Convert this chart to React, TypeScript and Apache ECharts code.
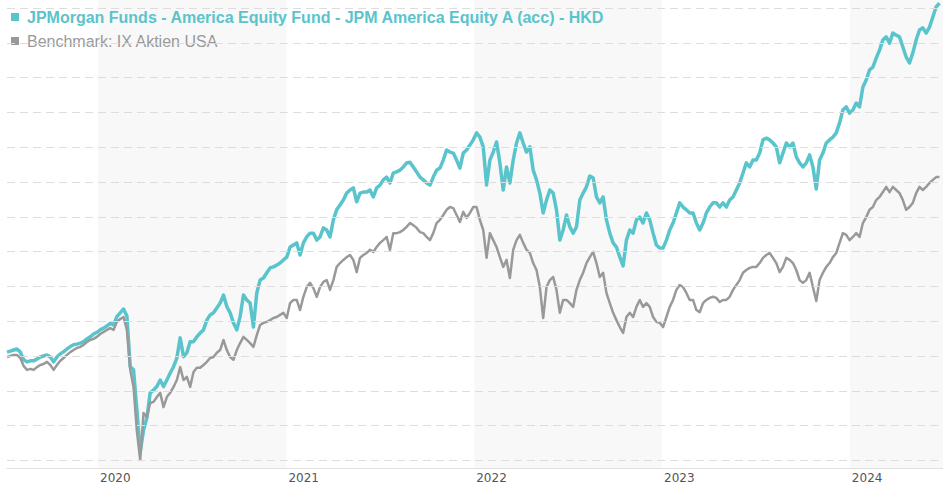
import React, { useEffect, useRef } from "react";
import * as echarts from "echarts";

const FUND_NAME = "JPMorgan Funds - America Equity Fund - JPM America Equity A (acc) - HKD";
const BENCH_NAME = "Benchmark: IX Aktien USA";

const START_DATE = "2019-07-08";
const STEP_DAYS = 6.472;
const AXIS_MIN = "2019-07-08";
const AXIS_MAX = "2024-06-30";
const Y_MIN = 67.8;
const Y_MAX = 202.3;
const GRID_VALUES = [70, 80, 90, 100, 110, 120, 130, 140, 150, 160, 170, 180, 190, 200];

const fund = [
  101.1, 101.4, 101.7, 102.0, 101.1, 98.9, 98.3, 98.6, 98.6, 99.1,
  99.7, 100.0, 100.3, 99.7, 98.3, 99.7, 100.6, 101.2, 102.0, 102.7,
  103.2, 103.4, 103.7, 104.1, 104.9, 105.5, 106.3, 106.8, 107.5, 108.0,
  108.6, 109.4, 108.9, 111.3, 112.4, 113.5, 111.5, 96.9, 96.0, 84.5,
  72.4, 78.7, 82.2, 89.4,
  90.2, 91.2,
  93.1, 91.2, 93.1, 95.1, 96.9, 99.4, 105.2, 99.8, 100.9,
  104.1, 104.1, 105.5, 106.6, 107.5, 110.3, 111.8, 112.4, 113.8,
  115.2, 117.5, 114.2, 112.4, 109.5, 107.5, 111.3, 117.5, 116.1,
  115.2, 108.3, 118.1, 121.8, 122.4, 123.9, 125.3, 125.6, 126.1,
  126.7, 127.6, 128.4, 131.3, 131.9, 132.5, 129.0, 132.5, 134.2,
  135.3, 135.3, 133.3, 134.2, 136.8, 136.2, 134.2, 139.1, 142.0,
  143.4, 144.8, 146.8, 147.7, 148.3, 144.3, 146.8, 147.1, 147.1,
  147.7, 145.7, 148.3, 149.1, 150.6, 151.4, 149.7, 152.6, 152.9,
  153.4, 154.3, 155.5, 155.7, 154.3, 152.9, 151.4, 150.6, 149.7,
  149.1, 151.4, 153.4, 154.0, 156.3, 159.2, 158.6, 158.3, 156.3,
  154.0, 158.3, 159.2, 160.6, 162.1, 164.1, 162.9, 160.1, 149.1,
  156.3, 158.6, 161.5, 155.5, 147.7, 154.3, 149.7, 156.3, 161.2,
  164.1, 161.2, 158.6, 160.1, 153.4, 150.6, 146.8, 141.1, 144.8,
  147.7, 146.8, 142.0, 133.3, 136.2, 140.5, 137.1, 135.3, 137.1,
  144.8, 146.8, 148.6, 151.7, 151.2, 145.7, 144.0, 145.7, 139.1,
  135.3, 132.5, 131.3, 128.4, 125.9, 133.3, 136.2, 135.3, 139.1,
  139.9, 138.2, 141.1, 139.1, 135.3, 131.9, 131.0, 131.0, 133.3,
  136.2, 138.2, 141.1, 144.0, 142.8, 142.0, 141.1, 141.1, 138.2,
  136.2, 138.2, 141.1, 142.8, 144.0, 144.0, 142.8, 144.0, 142.8,
  144.8, 145.7, 147.7, 149.7, 152.6, 155.5, 154.3, 156.3, 156.3,
  158.3, 162.1, 162.6, 162.1, 161.2, 160.1, 155.5, 158.3, 161.2,
  160.1, 161.2, 157.2, 155.5, 154.3, 155.5, 157.8, 154.3, 148.0,
  156.3, 158.3, 161.2, 162.1, 162.9, 164.1, 167.0, 170.7, 171.6,
  169.8, 170.7, 172.7, 171.6, 177.3, 179.3, 182.2, 183.0, 185.6,
  187.9, 190.8, 191.7, 189.9, 192.8, 192.2, 191.7, 188.8, 185.9,
  184.2, 187.1, 190.8, 193.7, 194.3, 192.8, 194.5, 197.4, 200.3,
  201.4,
];

const benchmark = [
  99.7, 100.0, 100.3, 100.3, 99.4, 97.1, 96.0, 96.3, 96.0, 96.8,
  97.4, 97.7, 98.3, 97.4, 96.0, 97.4, 98.6, 99.4, 100.3, 101.1,
  101.7, 102.3, 102.6, 103.2, 104.0, 104.6, 104.9, 105.5, 106.3, 106.9,
  107.5, 108.0, 107.5, 109.8, 110.6, 111.2, 107.5, 96.0, 91.1, 78.4,
  70.1, 83.6, 82.5, 86.5,
  86.8, 88.2,
  89.4, 85.3, 88.2, 89.4, 91.1, 93.1, 96.8, 93.1, 94.0,
  91.1, 95.4, 96.6, 96.6, 97.4, 98.3, 99.4, 99.7, 100.9,
  101.7, 104.6, 101.7, 99.7, 98.9, 101.7, 103.7, 105.5, 104.6,
  103.7, 102.6, 106.0, 108.9, 109.5, 109.8, 110.3, 110.9, 111.2,
  111.8, 112.4, 110.9, 115.2, 116.1, 116.1, 113.2, 117.0, 119.8,
  121.0, 119.5, 117.0, 119.8, 121.3, 121.8, 119.0, 121.8, 125.6,
  126.7, 127.6, 128.4, 129.0, 127.6, 124.1, 128.2, 129.0, 129.6,
  130.5, 129.9, 131.3, 132.5, 133.3, 134.2, 130.5, 135.3, 135.3,
  135.6, 136.2, 137.1, 138.2, 137.6, 136.8, 135.6, 135.3, 134.2,
  133.3, 135.3, 138.2, 139.1, 140.5, 142.0, 142.8, 142.5, 140.5,
  138.5, 141.4, 139.7, 141.1, 142.8, 142.8, 139.1, 136.2, 128.2,
  135.3, 133.3, 131.3, 128.4, 125.6, 127.6, 122.4, 130.5, 133.3,
  134.8, 132.5, 130.5, 129.6, 126.7, 124.7, 119.8, 110.9, 119.8,
  121.8, 122.7, 119.0, 112.4, 116.1, 116.1, 115.2, 114.1, 119.0,
  121.8, 123.9, 126.7, 128.4, 129.9, 126.7, 122.7, 123.9, 118.1,
  115.2, 112.4, 110.3, 108.3, 106.6, 111.2, 112.4, 111.2, 114.1,
  116.1, 114.1, 115.2, 114.1, 111.2, 109.8, 109.5, 108.3, 111.2,
  114.1, 116.1, 119.0, 120.4, 119.8, 118.1, 116.1, 116.1, 113.2,
  112.6, 115.2, 116.1, 116.7, 117.0, 116.7, 115.5, 116.1, 116.1,
  117.0, 119.0, 120.4, 121.8, 123.9, 124.7, 125.3, 125.6, 125.6,
  126.7, 128.2, 129.0, 129.6, 128.2, 126.7, 124.1, 125.6, 128.2,
  127.6, 126.7, 124.7, 121.8, 121.0, 121.8, 123.9, 119.8, 115.8,
  121.8, 123.9, 125.6, 126.7, 128.4, 129.6, 132.5, 135.3, 134.8,
  133.3, 134.2, 135.3, 134.2, 138.2, 139.9, 142.0, 142.8, 144.8,
  145.7, 147.1, 148.6, 147.1, 148.6, 147.7, 146.8, 144.8, 142.0,
  142.8, 144.0, 146.8, 148.6, 147.7, 148.6, 149.7, 150.6, 151.4,
  151.4,
];

const FUND_COLOR = "#5ac4cc";
const BENCH_COLOR = "#999999";

const DAY_MS = 86400000;
const startTs = new Date(START_DATE).getTime();
const toSeries = (vals: number[]) =>
  vals.map((v, i) => [startTs + i * STEP_DAYS * DAY_MS, v]);

export default function App() {
  const ref = useRef<HTMLDivElement>(null);

  useEffect(() => {
    if (!ref.current) return;
    const chart = echarts.init(ref.current, undefined, { renderer: "svg" });
    const year = 365 * DAY_MS;
    chart.setOption({
      animation: false,
      backgroundColor: "#ffffff",
      grid: { left: 7, right: 0, top: 0, bottom: 19, containLabel: false },
      legend: {
        show: true,
        orient: "vertical",
        left: 6,
        top: 4,
        itemGap: 8,
        itemWidth: 8,
        itemHeight: 8,
        icon: "rect",
        selectedMode: false,
        textStyle: {
          fontFamily: "Arial, 'Liberation Sans', sans-serif",
          fontSize: 16,
          padding: [0, 0, 0, 3],
        },
        data: [
          { name: FUND_NAME, textStyle: { color: FUND_COLOR, fontWeight: "bold" } },
          { name: BENCH_NAME, textStyle: { color: BENCH_COLOR, fontWeight: "normal" } },
        ],
      },
      xAxis: {
        type: "time",
        min: new Date(AXIS_MIN).getTime(),
        max: new Date(AXIS_MAX).getTime(),
        minInterval: year,
        maxInterval: year,
        axisLine: { show: true, lineStyle: { color: "#e0e0e0", width: 1 } },
        axisTick: { show: false },
        axisLabel: {
          show: true,
          formatter: "{yyyy}",
          align: "left",
          margin: 4,
          padding: [0, 0, 0, 2],
          color: "#555555",
          fontSize: 12,
          fontFamily: "'DejaVu Sans', Verdana, sans-serif",
          showMinLabel: false,
          showMaxLabel: false,
        },
        splitLine: { show: false },
        splitArea: {
          show: true,
          areaStyle: { color: ["rgba(255,255,255,0)", "#f8f8f8"] },
        },
      },
      yAxis: {
        type: "value",
        min: Y_MIN,
        max: Y_MAX,
        axisLine: { show: false },
        axisTick: { show: false },
        axisLabel: { show: false },
        splitLine: { show: false },
      },
      series: [
        {
          name: "grid",
          type: "line",
          data: [],
          z: 1,
          silent: true,
          markLine: {
            silent: true,
            symbol: ["none", "none"],
            label: { show: false },
            lineStyle: { color: "#dddddd", width: 1, type: [8, 5] },
            data: GRID_VALUES.map((v) => ({ yAxis: v })),
          },
        },
        {
          name: FUND_NAME,
          type: "line",
          data: toSeries(fund),
          showSymbol: false,
          symbol: "none",
          z: 3,
          color: FUND_COLOR,
          lineStyle: { color: FUND_COLOR, width: 3.5, join: "round" },
        },
        {
          name: BENCH_NAME,
          type: "line",
          data: toSeries(benchmark),
          showSymbol: false,
          symbol: "none",
          z: 4,
          color: BENCH_COLOR,
          lineStyle: { color: BENCH_COLOR, width: 2.5, join: "round" },
        },
      ],
    });
    return () => chart.dispose();
  }, []);

  return (
    <div
      ref={ref}
      style={{ position: "absolute", left: 0, top: 0, width: 943, height: 487 }}
    />
  );
}
